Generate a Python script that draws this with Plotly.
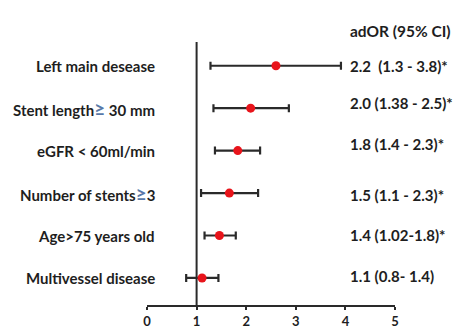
import plotly.graph_objects as go

# Data (top to bottom as in the picture)
labels = ["Left main desease",
          "Stent length<span style='color:#5878a8;font-size:19px'>≥</span> 30 mm",
          "eGFR < 60ml/min",
          "Number of stents<span style='color:#5878a8;font-size:19px'>≥</span>3",
          "Age>75 years old",
          "Multivessel disease"]
point_est = [2.6, 2.09, 1.83, 1.66, 1.46, 1.11]
ci_low = [1.28, 1.34, 1.37, 1.09, 1.16, 0.79]
ci_high = [3.91, 2.86, 2.28, 2.24, 1.79, 1.44]
value_text = ["2.2  (1.3 - 3.8)*", "2.0 (1.38 - 2.5)*", "1.8 (1.4 - 2.3)*",
              "1.5 (1.1 - 2.3)*", "1.4 (1.02-1.8)*", "1.1 (0.8- 1.4)"]
header = "adOR (95% CI)"
x_ticks = [0, 1, 2, 3, 4, 5]

n = len(labels)
ypos = [n - 1 - i for i in range(n)]  # top row highest

FONT = "Lato"
TXT = "#1e1e1e"

fig = go.Figure()
fig.add_trace(go.Scatter(
    x=point_est, y=ypos, mode="markers",
    marker=dict(color="#e8141b", size=9, line=dict(width=0)),
    error_x=dict(type="data", symmetric=False,
                 array=[h - p for h, p in zip(ci_high, point_est)],
                 arrayminus=[p - l for p, l in zip(point_est, ci_low)],
                 color="#2a2a2a", thickness=2.2, width=4),
    showlegend=False, hoverinfo="skip"))

# reference line at OR = 1
fig.add_shape(type="line", xref="x", yref="paper", x0=1, x1=1, y0=0, y1=1,
              line=dict(color="#2a2a2a", width=2), layer="below")

label_nudge = [0, 5, 7, -2, 1, 2]
for i in range(n):
    fig.add_annotation(x=0.04, xref="paper", y=ypos[i], yref="y",
                       text=labels[i], showarrow=False, xanchor="right",
                       yanchor="middle",
                       font=dict(family=FONT, size=15, color=TXT, weight="bold"))
    fig.add_annotation(x=0.81, xref="paper", y=ypos[i], yref="y",
                       yshift=label_nudge[i],
                       text=value_text[i], showarrow=False, xanchor="left",
                       yanchor="middle",
                       font=dict(family=FONT, size=15, color=TXT, weight="bold"))

fig.add_annotation(x=0.81, xref="paper", y=1.042, yref="paper",
                   text=header, showarrow=False, xanchor="left", yanchor="middle",
                   font=dict(family=FONT, size=15.5, color=TXT, weight="bold"))

fig.update_xaxes(range=[0, 5], tickvals=x_ticks, ticks="outside", ticklen=3,
                 tickwidth=2, tickcolor="#2a2a2a", showline=True, linecolor="#2a2a2a",
                 linewidth=2, showgrid=False, zeroline=False, automargin=False,
                 tickfont=dict(family=FONT, size=13, color=TXT, weight="bold"))
fig.update_yaxes(range=[-0.637, n - 1 + 0.559], showticklabels=False, showgrid=False,
                 zeroline=False, showline=False, ticks="", automargin=False)

fig.update_layout(width=454, height=329,
                  margin=dict(l=147, r=59, t=42, b=24, pad=0, autoexpand=False),
                  plot_bgcolor="white", paper_bgcolor="white")

fig.write_html("out.html", config={"displayModeBar": False},
               post_script="document.body.style.margin='0';document.body.style.padding='0';")
